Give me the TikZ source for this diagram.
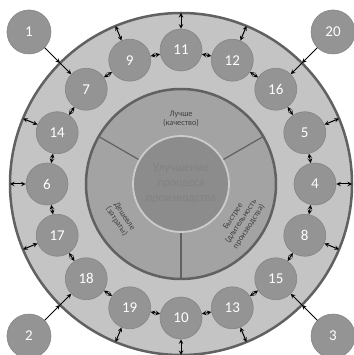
\documentclass[tikz,border=0pt]{standalone}
\usepackage{fontspec}
\setmainfont{Carlito}
\tikzset{>=stealth}

\definecolor{ringfill}{gray}{0.77}
\definecolor{ringedge}{gray}{0.38}
\definecolor{midfill}{gray}{0.64}
\definecolor{corefill}{gray}{0.55}
\definecolor{coreedge}{gray}{0.80}
\definecolor{numfill}{gray}{0.58}
\definecolor{numedge}{gray}{0.52}

\begin{document}
\begin{tikzpicture}[x=1pt,y=1pt,
  num/.style={circle,minimum size=42pt,inner sep=0pt,fill=numfill,draw=numedge,
    line width=0.6pt,text=white,font=\fontsize{15}{15}\selectfont},
  link/.style={<->,line width=1pt},
  sector/.style={align=center,text=black!75,font=\fontsize{8.3}{9.5}\selectfont}]
\useasboundingbox (-181,-171) rectangle (172,184);

% outer ring
\filldraw[fill=ringfill,draw=ringedge,line width=2.5pt] (0,0) circle (171);

% middle disc split in three
\filldraw[fill=midfill,draw=ringedge,line width=2.5pt] (0,0) circle (95);
\foreach \a in {30,150,270}
  \draw[ringedge,line width=1.2pt] (\a:48) -- (\a:95);
\node[circle,minimum size=96pt,inner sep=0pt,fill=corefill,draw=coreedge,line width=1.8pt,
  align=center,text=black!49,font=\fontsize{12}{15}\selectfont] (core) at (0,0)
  {Улучшение\\процесса\\производства};
\node[sector] (better) at (90:65) {Лучше\\(качество)};
\node[sector,rotate=57] (faster) at (-32:71) {Быстрее\\(длительность\\производства)};
\node[sector,rotate=-57] (cheaper) at (210:70) {Дешевле\\(затраты)};

% numbered circles on the ring
\foreach \n [count=\i from 0] in {11,12,16,5,4,8,15,13,10,19,18,17,6,14,7,9}
  \node[num] (n\n) at (90-22.5*\i:134) {\n};
\foreach \a/\b in {11/12,12/16,16/5,5/4,4/8,8/15,15/13,13/10,10/19,19/18,18/17,17/6,6/14,14/7,7/9,9/11}
  \draw[link] (n\a) -- (n\b);

% links to the edge of the ring
\foreach \n/\ang in {11/90,12/67.5,5/22.5,4/0,8/-22.5,13/-67.5,10/-90,19/-112.5,17/-157.5,6/180,14/157.5,9/112.5}{
  \coordinate (e\n) at (\ang:171);
  \draw[link] (n\n) -- (e\n);
}

% corner circles
\foreach \n/\m/\ang in {1/7/135,20/16/45,2/18/225,3/15/-45}{
  \node[num,minimum size=44pt] (o\n) at (\ang:215) {\n};
  \coordinate (x\n) at (\ang:171);
  \draw[->,line width=1pt] (o\n) -- (x\n);
  \draw[->,line width=1pt] (x\n) -- (n\m);
}
\end{tikzpicture}
\end{document}
